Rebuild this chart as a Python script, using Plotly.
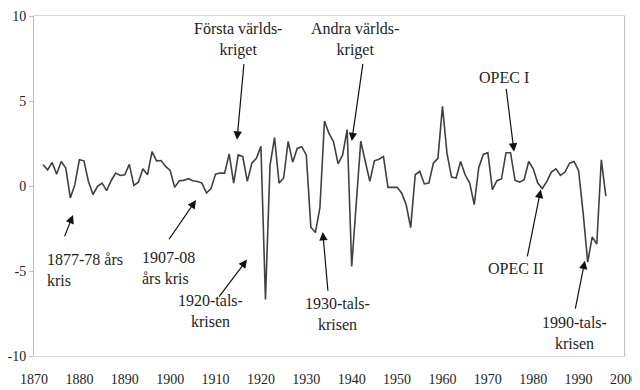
import plotly.graph_objects as go

years = list(range(1872, 1997))
values = [
    1.25, 0.95, 1.38, 0.70, 1.44, 1.05, -0.70, 0.08,            # 1872-1879
    1.54, 1.48, 0.27, -0.50, -0.02, 0.17, -0.27, 0.31, 0.76, 0.62,  # 1880s
    0.66, 1.27, 0.04, 0.22, 1.01, 0.66, 2.02, 1.48, 1.50, 1.15,     # 1890s
    0.91, -0.08, 0.31, 0.33, 0.43, 0.31, 0.27, 0.17, -0.41, -0.15,  # 1900s
    0.70, 0.76, 0.76, 1.89, 0.17, 1.83, 1.73, 0.27, 1.34, 1.63,     # 1910s
    2.33, -6.68, 1.20, 2.85, 0.17, 0.47, 2.62, 1.40, 2.21, 2.31,    # 1920s
    1.81, -2.42, -2.74, -1.28, 3.82, 3.09, 2.60, 1.30, 1.83, 3.32,  # 1930s
    -4.73, -1.00, 2.64, 1.44, 0.27, 1.48, 1.57, 1.73, -0.08, -0.08, # 1940s
    -0.08, -0.41, -1.09, -2.45, 0.66, 0.86, 0.12, 0.17, 1.34, 1.63, # 1950s
    4.68, 1.92, 0.52, 0.47, 1.44, 0.66, 0.17, -1.09, 1.09, 1.86,    # 1960s
    1.96, -0.21, 0.31, 0.41, 1.96, 1.96, 0.33, 0.23, 0.37, 1.44,    # 1970s
    1.01, 0.17, -0.15, 0.27, 0.82, 1.01, 0.62, 0.82, 1.34, 1.44,    # 1980s
    0.90, -1.60, -4.48, -2.99, -3.41, 1.54, -0.60,                  # 1990-1996
]

x_ticks = list(range(1870, 2001, 10))
y_ticks = [-10, -5, 0, 5, 10]
y_tick_labels = ["-10", "-5", "0", "5", "10"]

labels = [
    "1877-78 års<br>kris",
    "1907-08<br>års kris",
    "1920-tals-<br>krisen",
    "Första världs-<br>kriget",
    "Andra världs-<br>kriget",
    "1930-tals-<br>krisen",
    "OPEC I",
    "OPEC II",
    "1990-tals-<br>krisen",
]

FONT = "Liberation Serif"
TXT = "#1e1e1e"

fig = go.Figure()
fig.add_trace(go.Scatter(
    x=years, y=values, mode="lines",
    line=dict(color="#404040", width=1.6),
    hoverinfo="skip", showlegend=False,
))

# text placements (x, y, xanchor, align)
text_pos = [
    (1872.4, -4.94, "left", "left"),
    (1893.4, -4.85, "left", "left"),
    (1908.8, -7.36, "center", "center"),
    (1914.95, 8.62, "center", "center"),
    (1940.74, 8.62, "center", "center"),
    (1936.77, -7.53, "center", "center"),
    (1973.57, 6.39, "center", "center"),
    (1976.2, -4.85, "center", "center"),
    (1989.2, -8.64, "center", "center"),
]
# arrows: tail (ax, ay) -> tip (x, y)
arrows = [
    (1876.61, -3.05, 1878.59, -1.71),
    (1899.53, -3.22, 1905.70, -0.83),
    (1910.55, -6.60, 1916.94, -4.33),
    (1916.28, 7.26, 1914.73, 2.72),
    (1942.5, 7.26, 1940.02, 2.64),
    (1934.79, -6.25, 1933.62, -2.70),
    (1974.0, 5.81, 1975.77, 2.02),
    (1978.64, -4.23, 1981.66, -0.21),
    (1989.21, -7.30, 1991.38, -4.39),
]

annotations = []
for lab, (tx, ty, xa, al) in zip(labels, text_pos):
    annotations.append(dict(
        x=tx, y=ty, xref="x", yref="y", text=lab, showarrow=False,
        xanchor=xa, yanchor="middle", align=al,
        font=dict(family=FONT, size=16, color=TXT),
    ))
for ax, ay, x, y in arrows:
    annotations.append(dict(
        x=x, y=y, ax=ax, ay=ay, xref="x", yref="y", axref="x", ayref="y",
        text="", showarrow=True, arrowhead=2, arrowsize=1.4, arrowwidth=1.2,
        arrowcolor="#111111", standoff=0,
    ))

# page body has an 8px default margin, so the figure is sized to fit inside
fig.update_layout(
    width=632, height=382,
    margin=dict(l=26, r=16, t=8, b=34),
    paper_bgcolor="white", plot_bgcolor="white",
    font=dict(family=FONT, size=14, color=TXT),
    showlegend=False,
    annotations=annotations,
    xaxis=dict(
        range=[1870, 2000], tickvals=x_ticks, showgrid=False, zeroline=False,
        showline=True, mirror=True, linecolor="#d9d9d9", linewidth=1,
        ticks="", ticklabelstandoff=10, automargin=False,
        ticklabeloverflow="allow",
        tickfont=dict(family=FONT, size=14, color=TXT),
    ),
    xaxis2=dict(
        range=[1870, 2000], overlaying="x", anchor="free", position=0.5,
        tickvals=x_ticks, showticklabels=False, showgrid=False, zeroline=False,
        showline=True, linecolor="#d9d9d9", linewidth=1, automargin=False,
        ticks="outside", ticklen=4, tickcolor="#bfbfbf",
    ),
    yaxis=dict(
        range=[-10, 10], tickvals=y_ticks, ticktext=y_tick_labels,
        showgrid=False, zeroline=False, showline=True, mirror=True,
        linecolor="#bfbfbf", linewidth=1, ticks="outside", ticklen=4,
        tickcolor="#bfbfbf", automargin=False, ticklabeloverflow="allow",
        tickfont=dict(family=FONT, size=14, color=TXT),
    ),
)

fig.write_html("out.html")
